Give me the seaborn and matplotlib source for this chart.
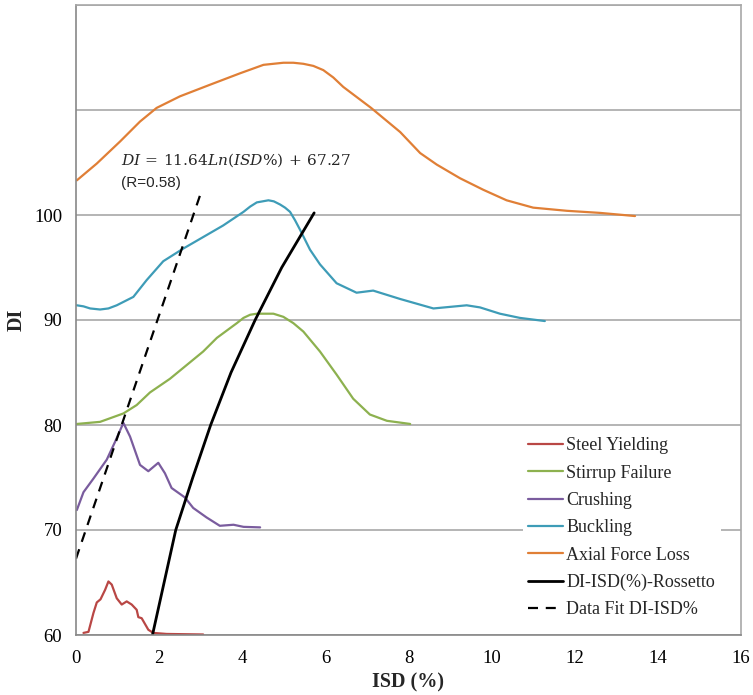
import numpy as np
import pandas as pd
import seaborn as sns
import matplotlib
matplotlib.use("Agg")
import matplotlib.pyplot as plt

# ---------------- data ----------------
steel_x = [0.18, 0.30, 0.42, 0.50, 0.59, 0.70, 0.78, 0.86, 0.98, 1.10, 1.22, 1.34, 1.46, 1.50, 1.58, 1.74, 1.86, 2.18, 3.06]
steel_y = [60.2, 60.3, 62.1, 63.1, 63.4, 64.3, 65.1, 64.8, 63.5, 62.9, 63.2, 62.9, 62.4, 61.7, 61.6, 60.5, 60.2, 60.1, 60.05]

stirrup_x = [0.02, 0.58, 1.14, 1.46, 1.78, 2.26, 3.06, 3.39, 3.87, 4.03, 4.19, 4.35, 4.51, 4.75, 4.99, 5.23, 5.47, 5.87,
             6.27, 6.67, 7.07, 7.48, 8.04]
stirrup_y = [80.1, 80.3, 81.1, 81.9, 83.1, 84.4, 87.0, 88.3, 89.7, 90.2, 90.5, 90.6, 90.6, 90.6, 90.3, 89.7, 88.9, 87.0,
             84.8, 82.5, 81.0, 80.4, 80.1]

crushing_x = [0.02, 0.18, 0.42, 0.74, 0.94, 1.14, 1.30, 1.54, 1.74, 1.98, 2.14, 2.30, 2.62, 2.82, 3.14, 3.46, 3.79, 4.03, 4.43]
crushing_y = [71.9, 73.6, 74.9, 76.7, 78.4, 80.2, 78.9, 76.2, 75.6, 76.4, 75.4, 74.0, 73.1, 72.1, 71.2, 70.4, 70.5, 70.3, 70.25]

buckling_x = [0.02, 0.18, 0.34, 0.58, 0.78, 0.98, 1.38, 1.70, 2.10, 2.58, 3.06, 3.54, 4.03, 4.19, 4.35, 4.49, 4.63, 4.76,
              4.91, 5.03, 5.15, 5.27, 5.39, 5.63, 5.87, 6.27, 6.75, 7.15, 7.80, 8.60, 9.40, 9.72, 10.20, 10.68, 11.28]
buckling_y = [91.4, 91.3, 91.1, 91.0, 91.1, 91.4, 92.2, 93.8, 95.6, 96.8, 97.9, 99.0, 100.3, 100.8, 101.2, 101.3, 101.4, 101.3,
              101.0, 100.7, 100.3, 99.5, 98.6, 96.7, 95.3, 93.5, 92.6, 92.8, 92.0, 91.1, 91.4, 91.2, 90.6, 90.2, 89.9]

axial_x = [0.02, 0.50, 1.06, 1.54, 1.94, 2.50, 3.22, 3.95, 4.23, 4.51, 4.75, 4.99, 5.23, 5.47, 5.71, 5.95, 6.19, 6.43,
           7.10, 7.80, 8.28, 8.68, 9.24, 9.80, 10.36, 11.00, 11.81, 12.61, 13.45]
axial_y = [103.3, 104.9, 107.0, 108.9, 110.2, 111.3, 112.4, 113.5, 113.9, 114.3, 114.4, 114.5, 114.5, 114.4, 114.2, 113.8,
           113.1, 112.2, 110.2, 107.9, 105.9, 104.8, 103.5, 102.4, 101.4, 100.7, 100.4, 100.2, 99.9]

rossetto_x = [1.84, 2.12, 2.40, 2.81, 3.24, 3.73, 4.31, 4.95, 5.73]
rossetto_y = [60.0, 65.0, 70.0, 75.0, 80.0, 85.0, 90.0, 95.0, 100.2]

fit_x = [0.0, 3.03]
fit_y = [67.27, 102.4]

x_ticks = [0, 2, 4, 6, 8, 10, 12, 14, 16]
y_ticks = [60, 70, 80, 90, 100, 110, 120]
y_tick_labels = ["60", "70", "80", "90", "100", "", ""]

labels = ["Steel Yielding", "Stirrup Failure", "Crushing", "Buckling", "Axial Force Loss",
          "DI-ISD(%)-Rossetto", "Data Fit DI-ISD%"]
colors = ["#B94745", "#8DB14F", "#7A5C9E", "#3E9CB7", "#E07F36", "#000000", "#000000"]

equation_text = r"$DI\,=\,11.64Ln(ISD\%)\,+\,67.27$"
r_text = "(R=0.58)"

# ---------------- plotting ----------------
sns.set_theme(style="white")
plt.rcParams["font.family"] = ["Liberation Serif", "DejaVu Serif"]
plt.rcParams["mathtext.fontset"] = "dejavuserif"
plt.rcParams["lines.solid_joinstyle"] = "round"
plt.rcParams["lines.solid_capstyle"] = "round"

fig = plt.figure(figsize=(7.53, 6.95), dpi=100)
ax = fig.add_axes([76 / 753, 1 - 635 / 695, (741 - 76) / 753, (635 - 5) / 695])

series = [(steel_x, steel_y), (stirrup_x, stirrup_y), (crushing_x, crushing_y),
          (buckling_x, buckling_y), (axial_x, axial_y)]
for (xs, ys), lab, col in zip(series, labels[:5], colors[:5]):
    df = pd.DataFrame({"x": xs, "y": ys})
    sns.lineplot(data=df, x="x", y="y", ax=ax, color=col, lw=1.6, sort=False,
                 estimator=None, label=lab)

df_r = pd.DataFrame({"x": rossetto_x, "y": rossetto_y})
sns.lineplot(data=df_r, x="x", y="y", ax=ax, color="black", lw=2.0, sort=False,
             estimator=None, label=labels[5])
df_f = pd.DataFrame({"x": fit_x, "y": fit_y})
sns.lineplot(data=df_f, x="x", y="y", ax=ax, color="black", lw=1.6, sort=False,
             estimator=None, label=labels[6])
ax.lines[-1].set_linestyle((0, (4.5, 3.5)))

ax.set_xlim(0, 16)
ax.set_ylim(60, 120)
ax.set_xticks(x_ticks)
ax.set_yticks(y_ticks)
ax.set_yticklabels(y_tick_labels)
ax.yaxis.grid(True, color="#A8A8A8", lw=1.2)
ax.set_axisbelow(True)
for s in ax.spines.values():
    s.set_color("#A8A8A8")
    s.set_linewidth(1.2)
ax.spines["left"].set_color("#888888")
ax.spines["bottom"].set_color("#888888")
ax.tick_params(axis="both", which="both", direction="out", length=4, width=1,
               labelsize=13.5, colors="#888888", labelcolor="black")
ax.tick_params(axis="x", pad=7)
ax.tick_params(axis="y", pad=6)

ax.set_xlabel("ISD (%)", fontsize=14.5, fontweight="bold", labelpad=4)
ax.set_ylabel("DI", fontsize=14.5, fontweight="bold", labelpad=5)

ax.text(1.08, 105.2, equation_text, fontsize=11.1, va="center", ha="left")
ax.text(1.08, 103.0, r_text, fontsize=11, va="center", ha="left",
        family=["Liberation Sans", "DejaVu Sans"])

leg = ax.legend(loc="upper left", bbox_to_anchor=(523 / 753, 1 - 432 / 695),
                bbox_transform=fig.transFigure, frameon=True, fontsize=13,
                handlelength=1.9, handletextpad=0.2, labelspacing=0.57,
                borderaxespad=0, borderpad=0.3)
leg.get_frame().set_edgecolor("none")
leg.get_frame().set_facecolor("white")
leg.get_frame().set_alpha(1.0)
leg.get_frame().set_boxstyle("square", pad=0)

fig.savefig("out.png", dpi=100)
